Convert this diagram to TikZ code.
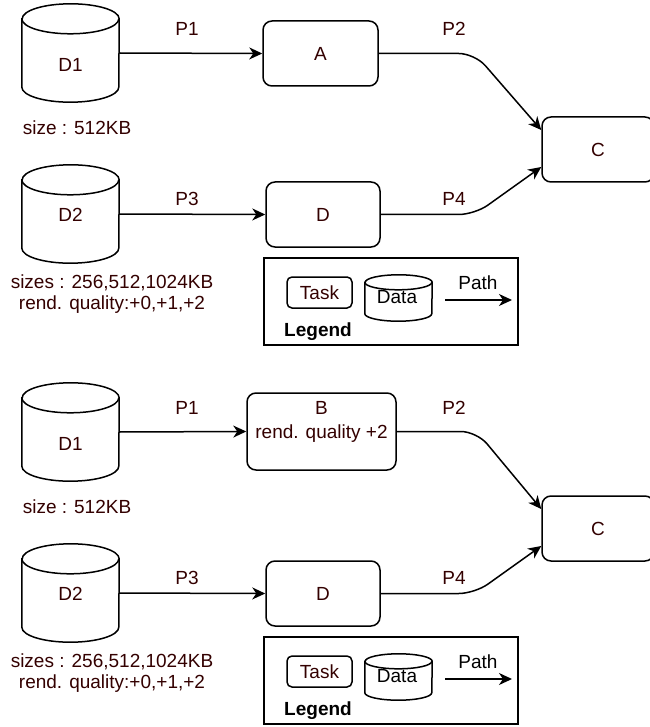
\documentclass[tikz,border=0pt]{standalone}
\usepackage{fontspec}
\setmainfont{Liberation Sans}
\usetikzlibrary{arrows.meta,calc}
\definecolor{txt}{HTML}{330000}

\tikzset{
  every node/.style={font=\fontsize{19}{21}\selectfont, text=txt, inner sep=0pt,
    text height=13.6pt, text depth=0pt},
  outline/.style={draw=black, line width=1.5pt},
  taskbox/.style={outline, fill=white, rounded corners=9pt},
  smalltask/.style={outline, fill=white, rounded corners=5pt,
    minimum width=65pt, minimum height=31pt},
  legendbox/.style={outline, fill=white},
  link/.style={draw=black, line width=1.5pt,
    -{Stealth[length=13pt, width=12pt, inset=4pt]}},
  plain/.style={text=black},
}

% data store: #1 name, #2 centre x, #3 centre y, #4 width, #5 height, #6 end radius
\newcommand\datacyl[6]{%
  \node[minimum width=#4pt, minimum height=#5pt] (#1) at (#2,#3) {};
  \draw[outline, fill=white]
    ([yshift=-#6pt]#1.north west) -- ([yshift=#6pt]#1.south west)
    arc[start angle=180, end angle=360, x radius=#4pt/2, y radius=#6pt]
    -- ([yshift=-#6pt]#1.north east)
    arc[start angle=0, end angle=180, x radius=#4pt/2, y radius=#6pt] -- cycle;
  \draw[outline] ([yshift=-#6pt]#1.north west)
    arc[start angle=180, end angle=360, x radius=#4pt/2, y radius=#6pt];
}

\begin{document}
\begin{tikzpicture}[x=1pt, y=-1pt]
\useasboundingbox (0,0) rectangle (649,727);

% ===================== first flow =====================
\datacyl{d1}{70.5}{53}{97}{98}{15}
\node (d1t) at (70.5,65) {D1};
\node (s1) at (77,128) {size : 512KB};

\datacyl{d2}{70.5}{214}{97}{98}{15}
\node (d2t) at (70.5,215) {D2};
\node (s2a) at (112,282) {sizes : 256,512,1024KB};
\node (s2b) at (112,303) {rend. quality:+0,+1,+2};

\node[taskbox, minimum width=115pt, minimum height=65pt] (A) at (320.5,53.5) {A};
\node[taskbox, minimum width=114pt, minimum height=65pt] (D) at (323,214.5) {D};
\node[taskbox, minimum width=112pt, minimum height=65pt] (C) at (598,149.5) {C};

\draw[link] (d1.east) -- (A.west);
\draw[link] (d2.east) -- (D.west);
\draw[link, rounded corners=16pt] (A.east) -- ++(96,0) -- ($(C.west)+(0,-19.5)$);
\draw[link, rounded corners=16pt] (D.east) -- ++(94,0) -- ($(C.west)+(0,17.5)$);

\node (p1) at (187,29) {P1};
\node (p2) at (454,29) {P2};
\node (p3) at (187,199) {P3};
\node (p4) at (454,199) {P4};

% legend
\node[legendbox, minimum width=254pt, minimum height=87pt] (leg) at (391,301.5) {};
\node[smalltask] (tk) at (319.5,292.5) {Task};
\datacyl{dc}{398.5}{298}{67}{46}{7.5}
\node[plain] (dt) at (397,297) {Data};
\coordinate (pa) at (445,300);
\coordinate (pb) at (512,300);
\draw[link] (pa) -- (pb);
\node[plain] (pl) at (478,283) {Path};
\node[plain, font=\fontsize{19}{21}\selectfont\bfseries] (lg) at (318,330) {Legend};

% ===================== second flow =====================
\datacyl{d1b}{70.5}{432}{97}{98}{15}
\node (d1bt) at (70.5,444) {D1};
\node (s1b) at (77,507) {size : 512KB};

\datacyl{d2b}{70.5}{593}{97}{98}{15}
\node (d2bt) at (70.5,594) {D2};
\node (s2ba) at (112,661) {sizes : 256,512,1024KB};
\node (s2bb) at (112,682) {rend. quality:+0,+1,+2};

\node[taskbox, minimum width=149pt, minimum height=77pt] (B) at (321.5,431.5) {};
\node (Bt1) at (321.5,408) {B};
\node (Bt2) at (321.5,432) {rend. quality +2};
\node[taskbox, minimum width=114pt, minimum height=65pt] (Db) at (323,593.5) {D};
\node[taskbox, minimum width=112pt, minimum height=65pt] (Cb) at (598,528.5) {C};

\draw[link] (d1b.east) -- (B.west);
\draw[link] (d2b.east) -- (Db.west);
\draw[link, rounded corners=16pt] (B.east) -- ++(80,0) -- ($(Cb.west)+(0,-19.5)$);
\draw[link, rounded corners=16pt] (Db.east) -- ++(94,0) -- ($(Cb.west)+(0,17.5)$);

\node (p1b) at (187,408) {P1};
\node (p2b) at (454,408) {P2};
\node (p3b) at (187,578) {P3};
\node (p4b) at (454,578) {P4};

% legend
\node[legendbox, minimum width=254pt, minimum height=87pt] (legb) at (391,680.5) {};
\node[smalltask] (tkb) at (319.5,671.5) {Task};
\datacyl{dcb}{398.5}{677}{67}{46}{7.5}
\node[plain] (dtb) at (397,676) {Data};
\coordinate (pab) at (445,679);
\coordinate (pbb) at (512,679);
\draw[link] (pab) -- (pbb);
\node[plain] (plb) at (478,662) {Path};
\node[plain, font=\fontsize{19}{21}\selectfont\bfseries] (lgb) at (318,709) {Legend};
\end{tikzpicture}
\end{document}
